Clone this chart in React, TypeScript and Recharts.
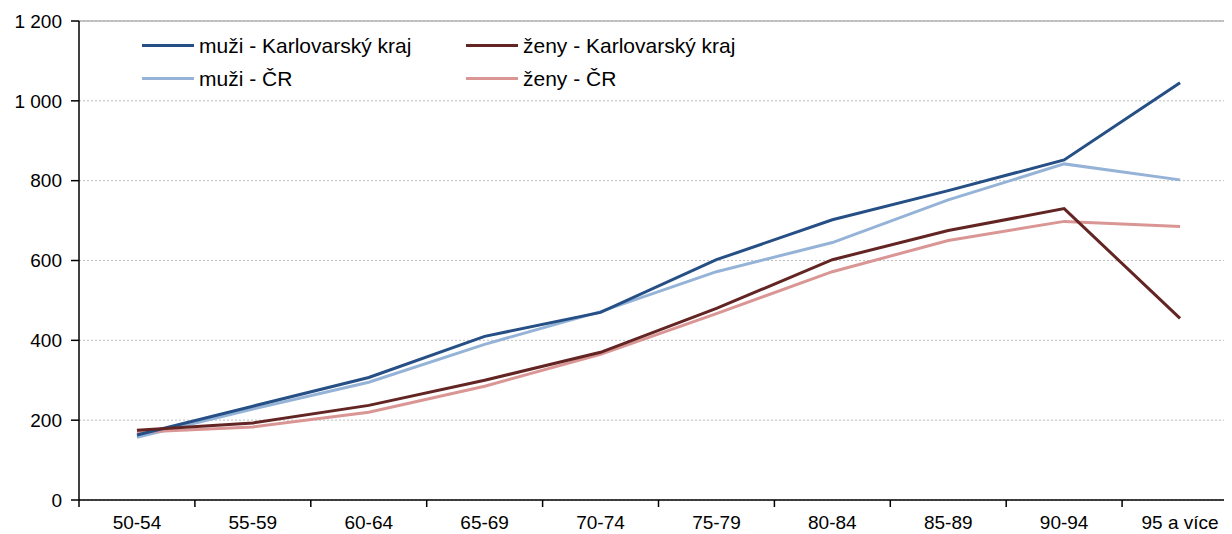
import React from 'react';
import { LineChart, Line, XAxis, YAxis, CartesianGrid, ReferenceLine } from 'recharts';

const categories = ['50-54', '55-59', '60-64', '65-69', '70-74', '75-79', '80-84', '85-89', '90-94', '95 a více'];
const muziKK = [163, 235, 307, 410, 470, 602, 702, 775, 852, 1045];
const muziCR = [157, 228, 295, 390, 472, 572, 645, 752, 842, 802];
const zenyKK = [175, 193, 237, 300, 370, 480, 602, 675, 730, 455];
const zenyCR = [170, 183, 220, 285, 365, 467, 572, 650, 698, 685];
const yTicks = [0, 200, 400, 600, 800, 1000, 1200];

const SERIES = [
  { key: 'muziCR', name: 'muži - ČR', color: '#95B3D7' },
  { key: 'zenyCR', name: 'ženy - ČR', color: '#D99694' },
  { key: 'muziKK', name: 'muži - Karlovarský kraj', color: '#254F85' },
  { key: 'zenyKK', name: 'ženy - Karlovarský kraj', color: '#632523' },
];
// legend order: column 1 = muži, column 2 = ženy
const LEGEND_ORDER = ['muziKK', 'muziCR', 'zenyKK', 'zenyCR'];

const data = categories.map((c, i) => ({
  cat: c,
  muziKK: muziKK[i],
  muziCR: muziCR[i],
  zenyKK: zenyKK[i],
  zenyCR: zenyCR[i],
}));

const WIDTH = 1232;
const HEIGHT = 526;
const MARGIN = { top: 13, right: 2, bottom: 0, left: 0 };
const X_AXIS_H = 34;
const Y_AXIS_W = 71;
const BAND = (WIDTH - MARGIN.left - MARGIN.right - Y_AXIS_W) / categories.length;
const FONT = '"Liberation Sans", Arial, sans-serif';

const fmt = (v: number) => String(v).replace(/\B(?=(\d{3})+(?!\d))/g, '\u00a0');

const XTick = (props: any) => {
  const { x, y, payload, index } = props;
  return (
    <g>
      <line x1={x - BAND / 2} x2={x - BAND / 2} y1={y} y2={y + 7} stroke="#000" strokeWidth={1.5} />
      {index === categories.length - 1 && (
        <line x1={x + BAND / 2} x2={x + BAND / 2} y1={y} y2={y + 7} stroke="#000" strokeWidth={1.5} />
      )}
      <text x={x} y={y + 29} textAnchor="middle" fontSize={19} fontFamily={FONT} fill="#000">
        {payload.value}
      </text>
    </g>
  );
};

const ChartLegend = () => {
  const items = LEGEND_ORDER.map(k => SERIES.find(s => s.key === k)!);
  return (
    <div
      style={{
        position: 'absolute',
        left: 134,
        top: 21,
        display: 'grid',
        gridTemplateColumns: '324px 324px',
        gridTemplateRows: '33px 33px',
        gridAutoFlow: 'column',
        fontFamily: FONT,
        fontSize: 21,
        color: '#000',
      }}
    >
      {items.map(s => (
        <div key={s.key} style={{ display: 'flex', alignItems: 'center', whiteSpace: 'nowrap' }}>
          <span style={{ display: 'inline-block', width: 52, height: 3, background: s.color, marginRight: 5 }} />
          <span>{s.name}</span>
        </div>
      ))}
    </div>
  );
};

export default function App() {
  return (
    <div style={{ position: 'relative', width: 1224, height: HEIGHT, overflow: 'hidden' }}>
      <LineChart width={WIDTH} height={HEIGHT} data={data} margin={MARGIN}>
        <CartesianGrid vertical={false} stroke="#bdbdbd" strokeDasharray="2 2" />
        <ReferenceLine y={1200} stroke="#b0b0b0" strokeWidth={1.5} />
        <XAxis
          dataKey="cat"
          tick={<XTick />}
          tickLine={false}
          tickSize={0}
          tickMargin={0}
          axisLine={{ stroke: '#000', strokeWidth: 1.5 }}
          interval={0}
          height={X_AXIS_H}
          padding={{ left: BAND / 2, right: BAND / 2 }}
        />
        <YAxis
          domain={[0, 1200]}
          ticks={yTicks}
          width={Y_AXIS_W}
          tickFormatter={fmt}
          tick={{ fontSize: 19, fill: '#000', fontFamily: FONT }}
          tickLine={{ stroke: '#000', strokeWidth: 1.5 }}
          tickSize={8}
          tickMargin={9}
          axisLine={{ stroke: '#000', strokeWidth: 1.5 }}
        />
        {SERIES.map(s => (
          <Line
            key={s.key}
            type="linear"
            dataKey={s.key}
            name={s.name}
            stroke={s.color}
            strokeWidth={3}
            dot={false}
            isAnimationActive={false}
          />
        ))}
      </LineChart>
      <ChartLegend />
    </div>
  );
}
